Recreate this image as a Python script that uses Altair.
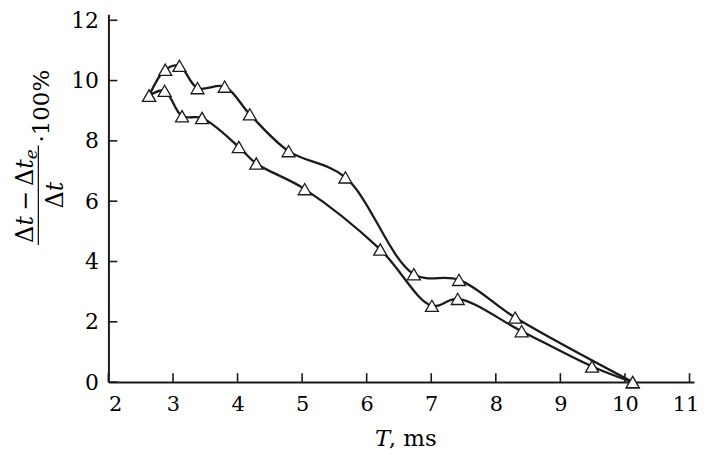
import altair as alt
import pandas as pd

# ---- data ----
upper_T = [2.63, 2.88, 3.10, 3.38, 3.80, 4.19, 4.79, 5.67, 6.73, 7.43, 8.30, 10.12]
upper_v = [9.5, 10.36, 10.49, 9.75, 9.8, 8.88, 7.66, 6.79, 3.58, 3.39, 2.14, 0.0]
lower_T = [2.63, 2.87, 3.14, 3.45, 4.02, 4.29, 5.04, 6.21, 7.01, 7.41, 8.40, 9.49, 10.12]
lower_v = [9.5, 9.66, 8.82, 8.76, 7.8, 7.25, 6.4, 4.4, 2.53, 2.76, 1.69, 0.52, 0.0]
x_ticks = [2, 3, 4, 5, 6, 7, 8, 9, 10, 11]
y_ticks = [0, 2, 4, 6, 8, 10, 12]

FONT = "DejaVu Serif"
W, H = 589, 370
INK = "#1a1a1a"

df = pd.concat([
    pd.DataFrame({"T": upper_T, "v": upper_v, "s": "upper"}),
    pd.DataFrame({"T": lower_T, "v": lower_v, "s": "lower"}),
], ignore_index=True)

xs = alt.Scale(domain=[2, 11.07], nice=False)
ys = alt.Scale(domain=[0, 12.2], nice=False)

base = alt.Chart(df)
lines = base.mark_line(interpolate="catmull-rom", color=INK, strokeWidth=2.3).encode(
    x=alt.X("T:Q", scale=xs, axis=alt.Axis(values=x_ticks, title=None, format="d",
                                           ticks=False, tickSize=0, labelPadding=12,
                                           labelFontSize=21,
                                           labelOffset=alt.ExprRef("datum.value == 11 ? -4 : 0"))),
    y=alt.Y("v:Q", scale=ys, axis=alt.Axis(values=y_ticks, title=None, format="d",
                                           ticks=False, tickSize=0, labelPadding=10,
                                           labelFontSize=22)),
    detail="s:N",
)
points = base.mark_point(shape="triangle-up", filled=True, fill="white", stroke=INK,
                         strokeWidth=1.3, size=170, opacity=1).encode(
    x=alt.X("T:Q", scale=xs), y=alt.Y("v:Q", scale=ys))

xt = alt.Chart(pd.DataFrame({"t": x_ticks})).mark_rule(color=INK, strokeWidth=1.6).encode(
    x=alt.X("t:Q", scale=xs), y=alt.value(H), y2=alt.value(H - 9))
yt = alt.Chart(pd.DataFrame({"t": y_ticks})).mark_rule(color=INK, strokeWidth=1.6).encode(
    y=alt.Y("t:Q", scale=ys), x=alt.value(0), x2=alt.value(9))


def txt(s, x, y, size=24, style="normal", align="center", angle=270, baseline="alphabetic"):
    return alt.Chart(pd.DataFrame({"s": [s]})).mark_text(
        font=FONT, fontSize=size, fontStyle=style, align=align, baseline=baseline,
        angle=angle, color="black").encode(text="s:N", x=alt.value(x), y=alt.value(y))


label_parts = [
    # numerator  Δt − Δt_e
    txt("Δ", -76, 221.3),
    txt("t", -76, 207.7, style="italic"),
    txt("−", -76, 187.9),
    txt("Δ", -76, 164.0),
    txt("t", -76, 150.5, style="italic"),
    txt("e", -72, 140.7, size=17, style="italic"),
    # denominator  Δt
    txt("Δ", -46, 186.8),
    txt("t", -46, 173.2, style="italic"),
    # factor
    txt("·100%", -59.3, 129, size=23, align="left"),
    # x title
    txt("T", 268, 434, size=23, style="italic", angle=0, align="left"),
    txt(", ms", 282, 434, size=23, align="left", angle=0),
]
frac = alt.Chart(pd.DataFrame({"a": [0]})).mark_rule(color="black", strokeWidth=1.2).encode(
    x=alt.value(-70.5), y=alt.value(132), y2=alt.value(232))

chart = alt.layer(lines, points, xt, yt, frac, *label_parts).properties(
    width=W, height=H,
    autosize=alt.AutoSizeParams(type="none"),
    padding={"left": 101, "top": 5, "right": 6, "bottom": 69},
).configure_view(stroke=None).configure_axis(
    grid=False, domainColor=INK, domainWidth=2, labelFont=FONT,
    labelColor="black",
)

chart.save("out.html", embed_options={"renderer": "svg", "actions": False})
